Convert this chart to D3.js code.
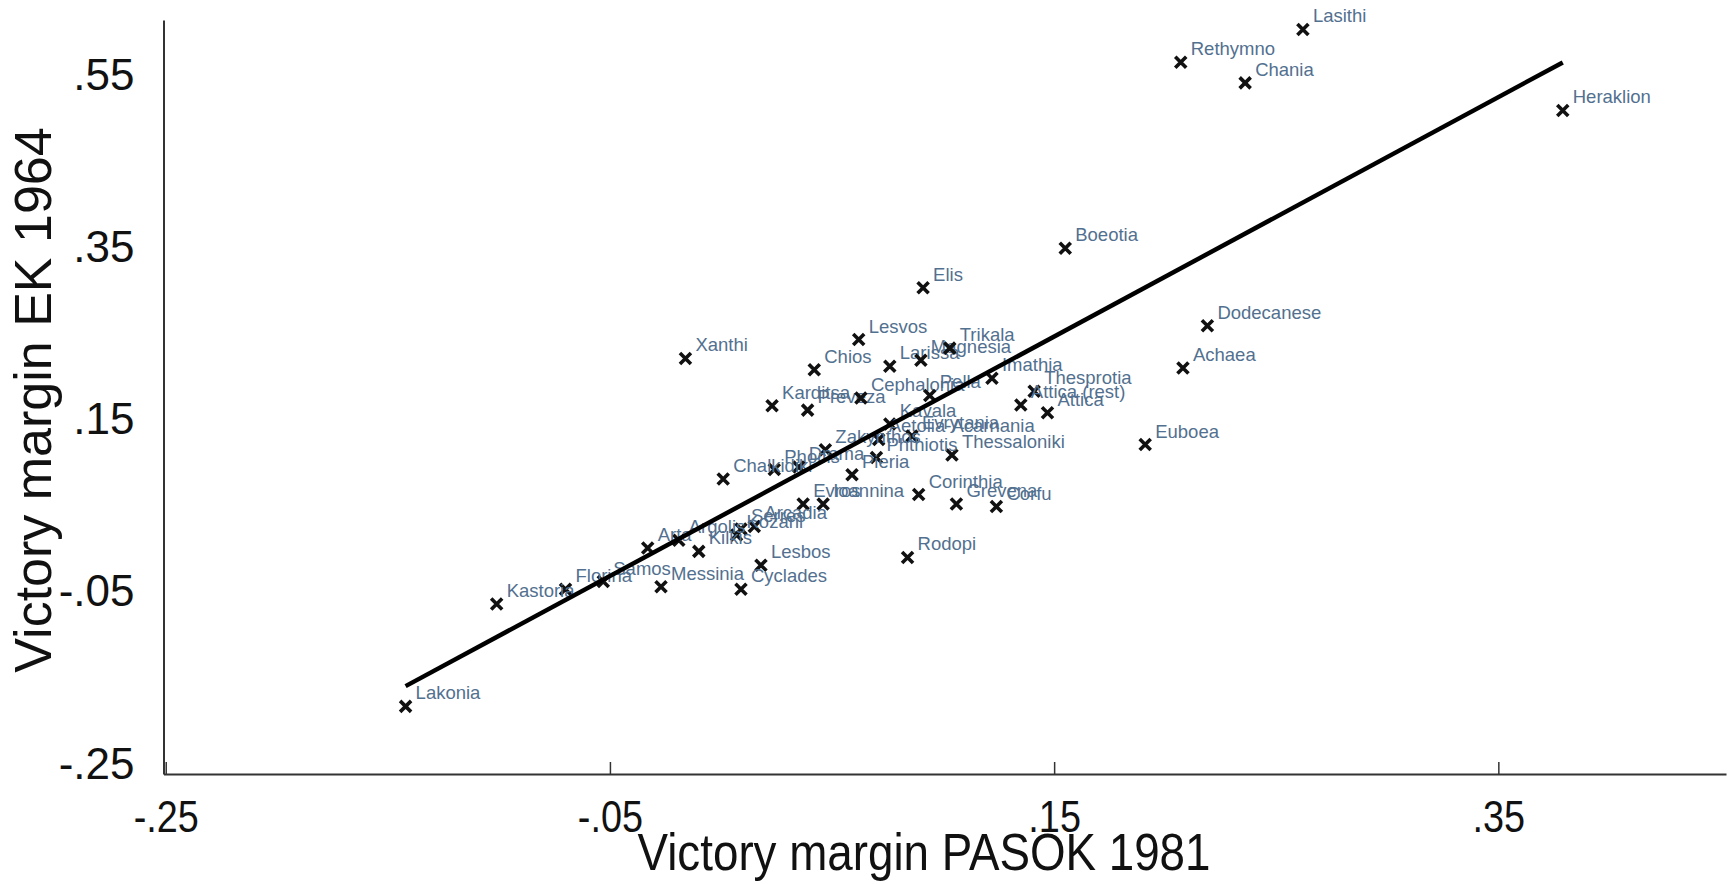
<!DOCTYPE html>
<html>
<head>
<meta charset="utf-8">
<script src="https://cdn.jsdelivr.net/npm/d3@7"></script>
<style>
  body { margin: 0; background: #fff; }
  svg { display: block; font-family: "Liberation Sans", Arial, sans-serif; }
</style>
</head>
<body>
<svg id="chart" width="1732" height="884"></svg>
<script>
const width = 1732, height = 884;

// prefecture names, PASOK 1981 margin (x), EK 1964 margin (y)
const districts = [
  "Lasithi", "Rethymno", "Chania", "Heraklion", "Boeotia", "Elis", "Dodecanese", "Achaea",
  "Euboea", "Xanthi", "Lesvos", "Chios", "Larissa", "Magnesia", "Trikala", "Imathia",
  "Thesprotia", "Attica (rest)", "Attica", "Karditsa", "Preveza", "Cephalonia", "Pella", "Kavala",
  "Aetolia-Acarnania", "Evrytania", "Thessaloniki", "Zakynthos", "Phthiotis", "Pieria", "Phocis", "Drama",
  "Chalkidiki", "Evros", "Ioannina", "Corinthia", "Grevena", "Corfu", "Serres", "Arcadia",
  "Kozani", "Argolis", "Kilkis", "Arta", "Lesbos", "Rodopi", "Samos", "Messinia",
  "Cyclades", "Florina", "Kastoria", "Lakonia"
];
const pasok1981 = [
  .262, .207, .236, .379, .155, .091, .219, .208,
  .191, -.016, .062, .042, .076, .090, .103, .122,
  .141, .135, .147, .023, .039, .063, .094, .076,
  .071, .086, .104, .047, .070, .059, .024, .035,
  .001, .037, .046, .089, .106, .124, .009, .015,
  .007, -.019, -.010, -.033, .018, .084, -.053, -.027,
  .009, -.070, -.101, -.142
];
const ek1964 = [
  .603, .565, .541, .509, .349, .303, .259, .210,
  .121, .221, .243, .208, .212, .219, .233, .198,
  .183, .167, .158, .166, .161, .175, .178, .145,
  .127, .131, .109, .115, .106, .086, .092, .095,
  .081, .052, .052, .063, .052, .049, .023, .026,
  .016, .010, -.003, .001, -.019, -.010, -.038, -.044,
  -.047, -.047, -.064, -.183
];

const xTicks = [-.25, -.05, .15, .35];
const yTicks = [-.25, -.05, .15, .35, .55];
const xRange = [-.251, .4525];
const yRange = [-.2615, .614];

const svg = d3.select("#chart");
const x = d3.scaleLinear().domain(xRange).range([163.5, 1726]);
const y = d3.scaleLinear().domain(yRange).range([774, 20]);
const fmt = v => d3.format(".2f")(v).replace("0.", ".").replace("\u2212", "-");

const data = districts.map((name, i) => ({ name, x: pasok1981[i], y: ek1964[i] }));

// linear fit (lfit)
const mx = d3.mean(data, d => d.x), my = d3.mean(data, d => d.y);
const slope = d3.sum(data, d => (d.x - mx) * (d.y - my)) / d3.sum(data, d => (d.x - mx) ** 2);
const icpt = my - slope * mx;
const [xmin, xmax] = d3.extent(data, d => d.x);

// axes
const xAxis = svg.append("g")
  .attr("transform", `translate(0,${y(yRange[0])})`)
  .call(d3.axisBottom(x).tickValues(xTicks).tickFormat(fmt).tickSizeInner(-12).tickSizeOuter(0).tickPadding(27));
xAxis.select(".domain").attr("stroke", "#333").attr("stroke-width", 2);
xAxis.selectAll(".tick line").attr("stroke", "#333").attr("stroke-width", 1.5);
xAxis.selectAll(".tick text")
  .attr("fill", "#111").style("font-size", "44px")
  .attr("transform", "scale(0.86,1)");

const yAxis = svg.append("g")
  .attr("transform", `translate(${x(xRange[0])},0)`)
  .call(d3.axisLeft(y).tickValues(yTicks).tickFormat(fmt).tickSize(0).tickPadding(29));
yAxis.select(".domain").attr("stroke", "#333").attr("stroke-width", 2);
yAxis.selectAll(".tick text").attr("fill", "#111").style("font-size", "44px");

// markers
const pts = svg.append("g").selectAll("g")
  .data(data)
  .join("g")
  .attr("transform", d => `translate(${x(d.x)},${y(d.y)})`);

pts.append("path")
  .attr("d", "M-5.5,-5.5L5.5,5.5M-5.5,5.5L5.5,-5.5")
  .attr("stroke", "#111")
  .attr("stroke-width", 3.6)
  .attr("fill", "none");

pts.append("text")
  .attr("x", 10)
  .attr("y", -7)
  .attr("fill", "#52708f")
  .style("font-size", "18.5px")
  .text(d => d.name);

// fitted line on top
svg.append("line")
  .attr("x1", x(xmin)).attr("y1", y(icpt + slope * xmin))
  .attr("x2", x(xmax)).attr("y2", y(icpt + slope * xmax))
  .attr("stroke", "#000")
  .attr("stroke-width", 4.5);

// axis titles
svg.append("text")
  .attr("transform", `translate(924,870) scale(0.88,1)`)
  .attr("text-anchor", "middle")
  .attr("fill", "#111")
  .style("font-size", "52px")
  .text("Victory margin PASOK 1981");

svg.append("text")
  .attr("transform", `translate(51,400) rotate(-90)`)
  .attr("text-anchor", "middle")
  .attr("fill", "#111")
  .style("font-size", "52px")
  .text("Victory margin EK 1964");
</script>
</body>
</html>
